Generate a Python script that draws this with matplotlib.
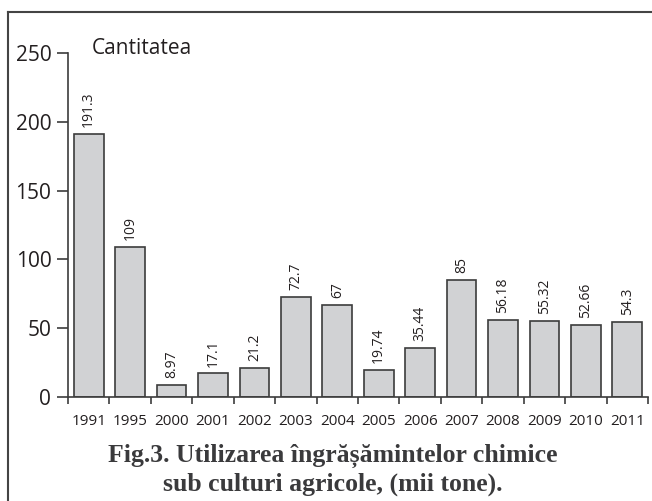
import numpy as np
import matplotlib.pyplot as plt
from matplotlib.lines import Line2D

years = ["1991", "1995", "2000", "2001", "2002", "2003", "2004",
         "2005", "2006", "2007", "2008", "2009", "2010", "2011"]
values = [191.3, 109, 8.97, 17.1, 21.2, 72.7, 67,
          19.74, 35.44, 85, 56.18, 55.32, 52.66, 54.3]
labels = ["191.3", "109", "8.97", "17.1", "21.2", "72.7", "67",
          "19.74", "35.44", "85", "56.18", "55.32", "52.66", "54.3"]

sans = "Open Sans"
serif = "Liberation Serif"
W, H = 652, 501

fig = plt.figure(figsize=(6.52, 5.01), dpi=100)
ax = fig.add_axes([68 / W, 1 - 397 / H, 580 / W, 344 / H])

x = np.arange(len(years))
ax.bar(x, values, width=0.72, color="#d1d2d4", edgecolor="#3c3c3c",
       linewidth=1.2, zorder=2)

for xi, v, lab in zip(x, values, labels):
    ax.text(xi, v + 5, lab, rotation=90, ha="center", va="bottom",
            fontsize=10, family=sans, color="#231f20")

ax.set_xlim(-0.5, len(years) - 0.5)
ax.set_ylim(0, 250)
ax.set_yticks([0, 50, 100, 150, 200, 250])
ax.tick_params(axis="y", length=8, width=1.2, color="#3c3c3c",
               labelsize=15, pad=4, labelcolor="#231f20")
for t in ax.get_yticklabels():
    t.set_family(sans)

ax.set_xticks(x)
ax.set_xticklabels(years, family=sans, fontsize=11, color="#231f20")
ax.tick_params(axis="x", which="major", length=0, pad=12)
ax.set_xticks(np.arange(-0.5, len(years)), minor=True)
ax.tick_params(axis="x", which="minor", length=5, width=1.2, color="#3c3c3c")

for s in ["top", "right"]:
    ax.spines[s].set_visible(False)
for s in ["left", "bottom"]:
    ax.spines[s].set_linewidth(1.2)
    ax.spines[s].set_color("#3c3c3c")

fig.text(92 / W, 1 - 49 / H, "Cantitatea", ha="left", va="center",
         fontsize=15, family=sans, color="#231f20")

fig.text(333 / W, 1 - 462 / H, "Fig.3. Utilizarea îngrășămintelor chimice",
         ha="center", va="baseline", fontsize=18.5, weight="bold",
         family=serif, color="#3a3a3c")
fig.text(333 / W, 1 - 491 / H, "sub culturi agricole, (mii tone).",
         ha="center", va="baseline", fontsize=18.5, weight="bold",
         family=serif, color="#3a3a3c")

# outer frame (top and left edges)
fig.add_artist(Line2D([8 / W, 1], [1 - 12 / H] * 2, transform=fig.transFigure,
                      color="#444444", linewidth=1.5))
fig.add_artist(Line2D([8 / W] * 2, [0, 1 - 12 / H], transform=fig.transFigure,
                      color="#444444", linewidth=1.5))

fig.savefig("out.png", dpi=100)
